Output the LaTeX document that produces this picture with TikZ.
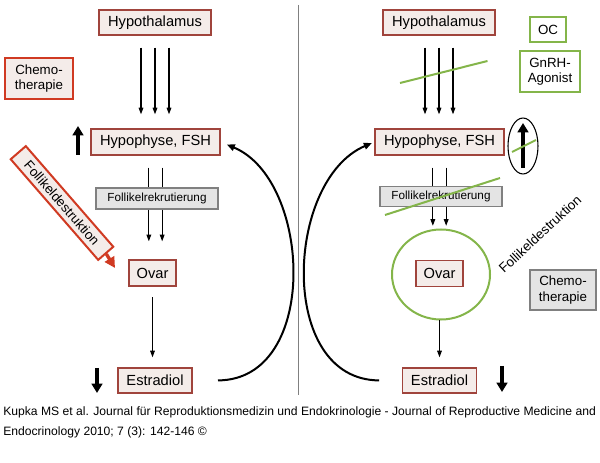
\documentclass[tikz,border=0pt]{standalone}
\usepackage{fontspec}
\setmainfont{Liberation Sans}
\usetikzlibrary{arrows.meta,shapes.geometric}
\definecolor{boxRed}{HTML}{A0443C}
\definecolor{boxFill}{HTML}{F4ECE9}
\definecolor{chemoRed}{HTML}{D03A22}
\definecolor{greyFill}{HTML}{E4E4E4}
\definecolor{greyLine}{HTML}{808080}
\definecolor{agonistGreen}{HTML}{84B54A}

\tikzset{
    organ/.style={draw=boxRed, fill=boxFill, line width=1pt, inner sep=0pt, font=\fontsize{11}{13}\selectfont},
    chemo/.style={draw=chemoRed, fill=boxFill, line width=1.5pt, inner sep=0pt, align=center, font=\fontsize{10}{11.5}\selectfont},
    greybox/.style={draw=greyLine, fill=greyFill, line width=0.9pt, inner sep=0pt, align=center},
    greenbox/.style={draw=agonistGreen, fill=white, line width=1.5pt, inner sep=0pt, align=center, font=\fontsize{10}{11.5}\selectfont},
    flow/.style={-{Triangle[length=5pt,width=3.5pt]}, line width=0.8pt},
    feedback/.style={-{Triangle[length=6pt,width=5pt]}, line width=1.5pt},
    bigarrow/.style={-{Triangle[length=7pt,width=8pt]}, line width=3pt},
    block/.style={agonistGreen, line width=1.5pt}
}

\begin{document}
\begin{tikzpicture}[x=0.75pt, y=-0.75pt]
    \useasboundingbox (0,0) rectangle (600,463);

    \node[organ, minimum width=84pt, minimum height=18.75pt] (hypoL) at (155,22.5) {Hypothalamus};
    \node[chemo, minimum width=51pt, minimum height=30.75pt] (chemoL) at (39,78.5) {Chemo-\\therapie};
    \node[organ, minimum width=96.75pt, minimum height=19.5pt] (fshL) at (155.5,142) {Hypophyse, FSH};
    \node[greybox, minimum width=91.5pt, minimum height=15.75pt, font=\fontsize{8.8}{10}\selectfont] (rekrL) at (157,198.5) {Follikelrekrutierung};
    \node[organ, minimum width=35.25pt, minimum height=19.5pt] (ovarL) at (152.5,273) {Ovar};
    \node[organ, minimum width=55.5pt, minimum height=18.75pt] (estrL) at (155,380.5) {Estradiol};
    \node[chemo, rotate=-49, minimum width=100pt, minimum height=15pt] (destrL) at (62,203) {Follikeldestruktion};
    \coordinate (hitL) at (115,268);

    \foreach \dx in {-10.5,0,10.5}
        \draw[flow, shorten <=9pt, shorten >=10.5pt] ([xshift=\dx pt]hypoL.south) -- ([xshift=\dx pt]hypoL.south |- fshL.north);
    \foreach \dx in {-5,5} {
        \draw[line width=0.8pt, shorten <=9pt] ([xshift=\dx pt]fshL.south) -- ([xshift=\dx pt]fshL.south |- rekrL.north);
        \draw[flow, shorten >=13.5pt] ([xshift=\dx pt]fshL.south |- rekrL.south) -- ([xshift=\dx pt]fshL.south |- ovarL.north);
    }
    \draw[flow, shorten <=8pt, shorten >=7.5pt] (ovarL.south) -- (ovarL.south |- estrL.north);
    \draw[feedback, shorten <=19pt, shorten >=5pt] (estrL.east) .. controls (320,380) and (312,180) .. (fshL.east);
    \draw[chemoRed, line width=2.5pt, -{Triangle[length=8pt,width=8pt]}] (destrL.east) -- (hitL);
    \draw[bigarrow] (78,155) -- (78,126);
    \draw[bigarrow] (97,368) -- (97,393);

    \draw[greyLine, line width=0.8pt] (298.5,5) -- (298.5,395);

    \node[organ, minimum width=84pt, minimum height=18.75pt] (hypoR) at (439,22.5) {Hypothalamus};
    \node[greenbox, minimum width=27pt, minimum height=18.75pt] (ocR) at (548,29.5) {OC};
    \node[greenbox, minimum width=45pt, minimum height=30.75pt] (gnrhR) at (550,71.5) {GnRH-\\Agonist};
    \node[organ, minimum width=96.75pt, minimum height=19.5pt] (fshR) at (439.5,142) {Hypophyse, FSH};
    \node[draw, ellipse, line width=0.8pt, minimum width=22.5pt, minimum height=42pt, inner sep=0pt] (riseR) at (523,146) {};
    \node[greybox, minimum width=91.5pt, minimum height=15pt, font=\fontsize{8.8}{10}\selectfont] (rekrR) at (441,196.5) {Follikelrekrutierung};
    \node[draw=agonistGreen, ellipse, line width=1.5pt, minimum width=73.5pt, minimum height=67.5pt, inner sep=0pt] (ringR) at (441,274.5) {};
    \node[organ, minimum width=35.25pt, minimum height=19.5pt] (ovarR) at (439.5,273.5) {Ovar};
    \node[organ, minimum width=55.5pt, minimum height=18.75pt] (estrR) at (439.5,380.5) {Estradiol};
    \node[rotate=43, inner sep=0pt, font=\fontsize{10}{12}\selectfont] (destrR) at (540,234) {Follikeldestruktion};
    \node[greybox, minimum width=49.5pt, minimum height=30pt, font=\fontsize{10}{11.5}\selectfont] (chemoR) at (563,290) {Chemo-\\therapie};

    \foreach \dx in {-10.5,0,10.5}
        \draw[flow, shorten <=9pt, shorten >=10.5pt] ([xshift=\dx pt]hypoR.south) -- ([xshift=\dx pt]hypoR.south |- fshR.north);
    \foreach \dx in {-5,5} {
        \draw[line width=0.8pt, shorten <=9pt] ([xshift=\dx pt]fshR.south) -- ([xshift=\dx pt]fshR.south |- rekrR.north);
        \draw[flow, shorten >=2pt] ([xshift=\dx pt]fshR.south |- rekrR.south) -- ([xshift=\dx pt]fshR.south |- ringR.north);
    }
    \draw[flow, shorten >=7.5pt] (estrR.north |- ringR.south) -- (estrR.north);
    \draw[feedback, shorten <=17pt, shorten >=2pt] (estrR.west) .. controls (277,380) and (285,180) .. (fshR.west);
    \draw[bigarrow] (523,168) -- (523,123);
    \draw[bigarrow] (502,366) -- (502,392);

    \draw[block] (400,83) -- (487.5,61);
    \draw[block] (512,152) -- (536,140);
    \draw[block] (385,215) -- (500,178);

    \node[anchor=north west, align=left, inner sep=0pt, font=\fontsize{9.1}{15}\selectfont] (source) at (3,406) {Kupka MS et al. Journal für Reproduktionsmedizin und Endokrinologie - Journal of Reproductive Medicine and\\Endocrinology 2010; 7 (3): 142-146 ©};
\end{tikzpicture}
\end{document}
